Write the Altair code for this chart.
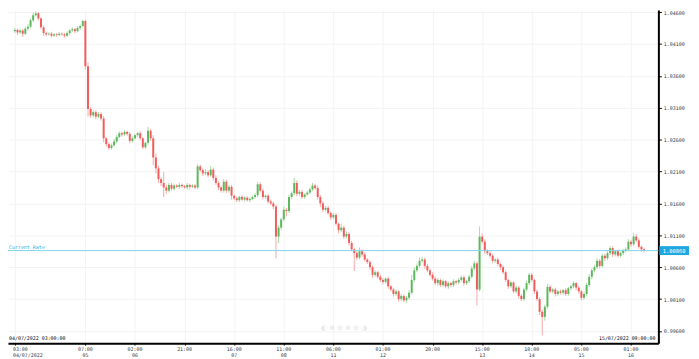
import altair as alt
import pandas as pd

first_open = 10430
closes = [
10432,10428,10431,10426,10434,10437,10447,10455,10458,10450,
10436,10427,10425,10426,10423,10425,10424,10426,10425,10423,
10427,10431,10433,10430,10435,10438,10446,10375,10308,10298,
10303,10296,10300,10293,10262,10253,10247,10251,10257,10264,
10270,10268,10272,10269,10258,10262,10267,10270,10262,10248,
10255,10274,10262,10232,10215,10198,10192,10185,10180,10189,
10183,10188,10186,10189,10187,10185,10189,10186,10188,10185,
10218,10212,10207,10209,10204,10213,10200,10192,10185,10180,
10194,10180,10186,10172,10168,10165,10170,10166,10169,10165,
10167,10170,10173,10190,10180,10170,10172,10163,10160,10155,
10108,10122,10135,10150,10148,10170,10176,10192,10175,10178,
10170,10174,10177,10182,10188,10184,10170,10160,10150,10153,
10145,10138,10142,10128,10118,10122,10108,10112,10098,10088,
10082,10075,10085,10080,10072,10068,10060,10048,10052,10045,
10040,10037,10042,10030,10025,10018,10022,10010,10015,10008,
10012,10020,10040,10055,10062,10070,10072,10062,10055,10048,
10042,10035,10040,10032,10038,10030,10035,10032,10038,10036,
10040,10044,10035,10038,10045,10058,10066,10025,10108,10100,
10085,10082,10078,10070,10072,10065,10060,10052,10040,10030,
10036,10022,10028,10015,10010,10025,10035,10048,10040,10022,
10010,9990,9982,9998,10029,10022,10025,10018,10022,10020,
10024,10018,10027,10030,10035,10028,10022,10012,10018,10032,
10045,10055,10060,10070,10062,10078,10074,10082,10090,10080,
10085,10078,10082,10086,10088,10100,10096,10108,10102,10092,
10088,10086]

wick_up = [
3,2,3,2,3,4,3,4,3,2, 2,3,2,2,3,2,2,3,2,2,
3,2,3,2,3,2,2,2,6,3, 4,3,3,3,4,2,3,3,4,3,
3,2,3,2,3,3,2,2,3,2, 2,6,3,5,6,4,3,17,4,3,
3,2,2,3,2,2,3,2,2,2, 4,3,3,5,3,6,3,4,3,3,
4,3,3,3,2,3,2,3,2,2, 3,2,3,4,3,3,2,3,3,3,
3,4,3,5,3,4,3,8,4,3, 3,2,3,3,4,3,4,3,3,3,
3,2,3,3,2,6,3,4,3,3, 2,3,6,3,3,2,3,3,3,2,
3,3,2,3,2,3,3,2,3,2, 3,4,8,5,4,5,4,3,3,3,
4,3,3,2,3,2,3,2,3,2, 3,3,3,2,3,4,4,3,16,5,
4,3,3,3,2,3,2,3,3,2, 3,2,3,2,3,3,4,3,3,2,
3,3,3,3,5,3,2,3,2,3, 2,3,2,3,3,2,3,2,3,3,
4,3,3,4,3,3,3,4,3,3, 2,3,2,3,3,4,3,6,4,3,
2,2]

wick_down = [
3,4,2,5,2,3,2,3,2,3, 3,4,3,2,3,2,3,2,2,3,
2,3,2,3,2,3,2,5,12,4, 3,4,3,3,6,4,3,3,2,3,
2,3,2,3,4,3,2,3,3,3, 3,3,4,12,8,6,5,15,5,3,
3,3,2,3,3,2,3,4,2,3, 3,3,4,3,3,3,4,3,4,3,
3,4,3,6,3,3,3,2,3,2, 3,2,3,3,3,4,3,3,3,4,
34,10,4,3,8,3,3,3,4,3, 3,3,2,3,3,3,4,6,4,3,
3,4,3,3,5,3,4,3,4,3, 28,4,3,4,3,3,4,5,3,3,
3,4,3,4,3,4,3,4,3,3, 4,3,3,3,3,3,3,4,3,3,
3,3,4,3,3,3,4,3,3,3, 3,3,4,3,3,3,3,25,3,3,
4,3,3,4,3,3,4,3,3,4, 3,3,3,4,3,3,3,3,3,4,
3,5,29,6,3,3,3,4,3,3, 3,3,3,3,3,4,3,4,3,3,
3,4,3,3,4,3,4,3,3,4, 3,3,3,3,3,3,4,3,3,3,
4,3]

tick_idx = [0, 27, 46, 65, 84, 103, 122, 141, 160, 179, 198, 217, 236]
tick_time = ["03:00", "07:00", "02:00", "21:00", "16:00", "11:00", "06:00",
             "01:00", "20:00", "15:00", "10:00", "05:00", "01:00"]
tick_day = ["04/07/2022", "05", "06", "", "07", "08", "11", "12", "", "13", "14", "15", "16"]
y_ticks = [0.996, 1.001, 1.006, 1.011, 1.016, 1.021, 1.026, 1.031, 1.036, 1.041, 1.046]
current_rate = 1.0086
start_label = "04/07/2022 03:00:00"
end_label = "15/07/2022 09:00:00"

rows = []
prev = first_open
for i, c in enumerate(closes):
    o = prev
    hi = max(o, c) + wick_up[i]
    lo = min(o, c) - wick_down[i]
    rows.append({"i": i, "open": o / 10000, "close": c / 10000,
                 "high": hi / 10000, "low": lo / 10000,
                 "dir": "up" if c >= o else "down"})
    prev = c
df = pd.DataFrame(rows)

W, H = 658, 337
FONT = "DejaVu Sans Mono"
xs = alt.Scale(domain=[-0.746, 244.6], nice=False, zero=False)
ys = alt.Scale(domain=[0.99409, 1.04631], nice=False, zero=False)
x_axis = alt.Axis(values=tick_idx, labels=False, grid=True, gridColor="#f3f3f3",
                  domainColor="#000000", domainWidth=2, tickColor="#000000",
                  tickSize=2, title=None)
y_axis = alt.Axis(orient="right", values=y_ticks, format=".5f", grid=True,
                  gridColor="#f3f3f3", domainColor="#000000", domainWidth=2,
                  tickColor="#000000", tickSize=3, labelFontSize=5, labelFont=FONT,
                  labelColor="#333333", labelPadding=2, title=None)


def X(field):
    return alt.X(field, scale=xs, axis=x_axis, title=None)


def Y(field):
    return alt.Y(field, scale=ys, axis=y_axis, title=None)


base = alt.Chart(df)

wicks = base.mark_rule(strokeWidth=1).encode(
    x=X("i:Q"), y=Y("low:Q"), y2="high:Q",
    color=alt.Color("dir:N", scale=alt.Scale(domain=["up", "down"],
                    range=["#a9dba9", "#f6a9a9"]), legend=None),
)

bodies = base.mark_bar(size=2).encode(
    x=X("i:Q"), y=Y("open:Q"), y2="close:Q",
    color=alt.Color("dir:N", scale=alt.Scale(domain=["up", "down"],
                    range=["#5cb85c", "#f25c5c"]), legend=None),
)

rate_df = pd.DataFrame({"rate": [current_rate], "hi": [current_rate + 0.0007],
                        "lo": [current_rate - 0.0007],
                        "label": [f"{current_rate:.5f}"], "name": ["Current Rate"]})
rate_base = alt.Chart(rate_df)
rate_line = rate_base.mark_rule(color="#7fd3ea", strokeWidth=1).encode(y=Y("rate:Q"))
rate_text = rate_base.mark_text(align="left", baseline="bottom", dy=-1, fontSize=5,
                                font=FONT, color="#29abe2").encode(
    x=alt.value(1), y=Y("rate:Q"), text="name:N")
rate_box = rate_base.mark_rect(color="#1fa8e0").encode(
    x=alt.value(W + 1), x2=alt.value(W + 31), y=Y("hi:Q"), y2="lo:Q")
rate_box_text = rate_base.mark_text(align="center", baseline="middle", fontSize=5.5,
                                    font=FONT, color="#ffffff").encode(
    x=alt.value(W + 16), y=Y("rate:Q"), text="label:N")

tick_df = pd.DataFrame({"i": tick_idx, "t1": tick_time, "t2": tick_day})
tick_first = alt.Chart(tick_df.iloc[:1])
tick_rest = alt.Chart(tick_df.iloc[1:])
lab_kw = dict(fontSize=5, font=FONT, color="#333333", baseline="middle")
first1 = tick_first.mark_text(align="left", dx=-2, **lab_kw).encode(
    x=X("i:Q"), y=alt.value(H + 6), text="t1:N")
first2 = tick_first.mark_text(align="left", dx=-2, **lab_kw).encode(
    x=X("i:Q"), y=alt.value(H + 12), text="t2:N")
rest1 = tick_rest.mark_text(align="center", **lab_kw).encode(
    x=X("i:Q"), y=alt.value(H + 6), text="t1:N")
rest2 = tick_rest.mark_text(align="center", **lab_kw).encode(
    x=X("i:Q"), y=alt.value(H + 12), text="t2:N")

corner_df = pd.DataFrame({"s": [start_label], "e": [end_label]})
corner = alt.Chart(corner_df)
start_txt = corner.mark_text(align="left", baseline="bottom", fontSize=5, font=FONT,
                             color="#000000").encode(
    x=alt.value(1), y=alt.value(H - 2), text="s:N")
end_txt = corner.mark_text(align="right", baseline="bottom", fontSize=5, font=FONT,
                           color="#000000").encode(
    x=alt.value(W - 3), y=alt.value(H - 2), text="e:N")

icons_df = pd.DataFrame({"t": ["\u25d0  \u2295  \u2296  \u2295  \u2296  \u25d1"]})
icons = alt.Chart(icons_df).mark_text(align="center", baseline="middle", fontSize=7,
                                      font="DejaVu Sans", color="#e6e6e6").encode(
    x=alt.value(340), y=alt.value(H - 15), text="t:N")

chart = alt.layer(
    wicks, bodies, rate_line, rate_text, rate_box, rate_box_text,
    first1, first2, rest1, rest2, start_txt, end_txt, icons
).resolve_scale(color="independent").properties(
    width=W, height=H,
    autosize=alt.AutoSizeParams(type="none"),
    padding={"left": 0, "top": 0, "right": 33, "bottom": 18},
    background="#ffffff",
).configure_view(strokeWidth=0)

chart.save("out.html", embed_options={"renderer": "svg", "actions": False})
